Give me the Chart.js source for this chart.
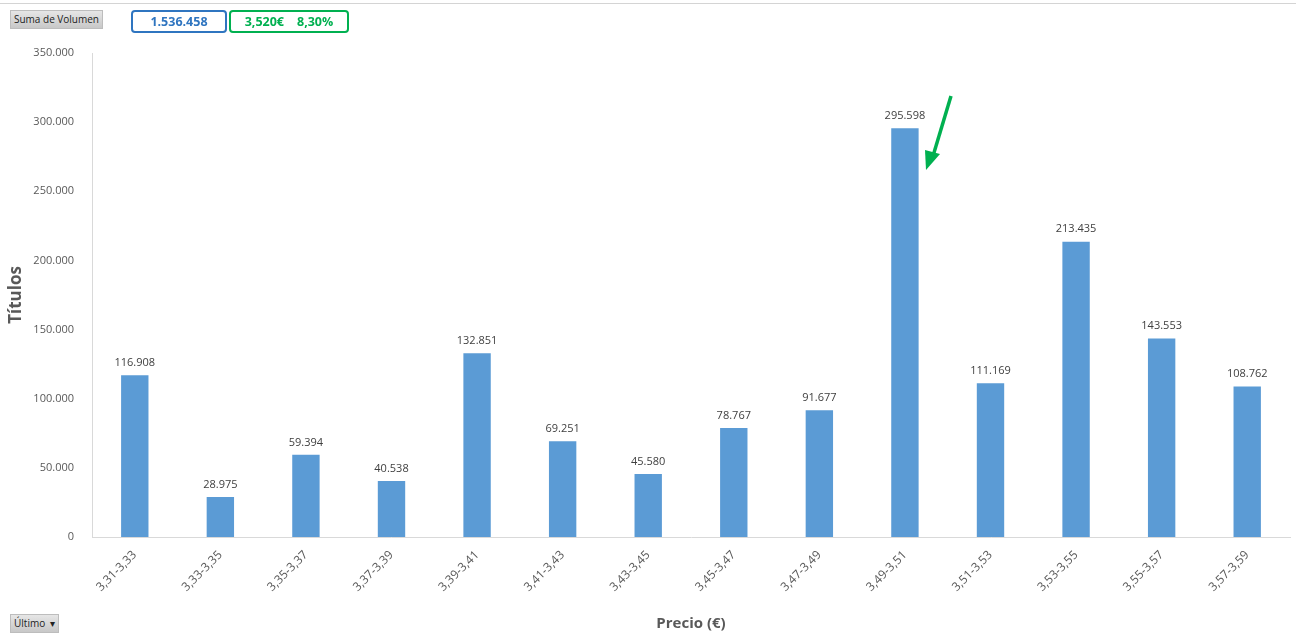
<!DOCTYPE html>
<html>
<head>
<meta charset="utf-8">
<script src="https://cdn.jsdelivr.net/npm/chart.js@4.4.1/dist/chart.umd.min.js"></script>
<style>
  body { margin: 0; background: #fff; font-family: "Open Sans", sans-serif; }
  #wrap { position: relative; width: 1296px; height: 638px; overflow: hidden; }
  #sheet { position: absolute; left: 0; top: 0; width: 1296px; height: 3px; border-bottom: 1px solid #d4d4d4; }
  .btn { position: absolute; background: linear-gradient(#e6e6e6, #c8c8c8); color: #222; font-size: 10px;
         padding: 1px 3px; line-height: 15px; border: 1px solid #bdbdbd; }
  .box { position: absolute; border-radius: 4px; font-weight: bold; font-size: 12.5px; text-align: center; line-height: 19px; }
  canvas { position: absolute; left: 0; top: 0; }
  svg { position: absolute; left: 0; top: 0; pointer-events: none; }
</style>
</head>
<body>
<div id="wrap">
  <canvas id="chartVolumen" width="1296" height="638"></canvas>
  <div id="sheet"></div>
  <div class="btn" style="left:10px;top:10px;">Suma de Volumen</div>
  <div class="box" style="left:131px;top:10px;width:92px;border:2px solid #2f75c0;color:#2f75c0;">1.536.458</div>
  <div class="box" style="left:229px;top:10px;width:116px;border:2px solid #00b050;color:#00b050;">3,520€&nbsp;&nbsp;&nbsp;&nbsp;8,30%</div>
  <div class="btn" style="left:10px;top:614px;">Último&nbsp;&nbsp;▾</div>
  <svg width="1296" height="638">
    <line x1="951" y1="96" x2="933" y2="156" stroke="#00b050" stroke-width="3.5"/>
    <polygon points="926,170 925,150 940,154" fill="#00b050"/>
  </svg>
</div>
<script>
  const rangos = ["3,31-3,33", "3,33-3,35", "3,35-3,37", "3,37-3,39", "3,39-3,41", "3,41-3,43", "3,43-3,45",
                  "3,45-3,47", "3,47-3,49", "3,49-3,51", "3,51-3,53", "3,53-3,55", "3,55-3,57", "3,57-3,59"];
  const volumen = [116908, 28975, 59394, 40538, 132851, 69251, 45580, 78767, 91677, 295598, 111169, 213435, 143553, 108762];

  const fmt = (v) => v.toString().replace(/\B(?=(\d{3})+(?!\d))/g, ".");

  // etiquetas encima de cada barra
  const valueLabels = {
    id: "valueLabels",
    afterDatasetsDraw(chart) {
      const ctx = chart.ctx;
      const meta = chart.getDatasetMeta(0);
      ctx.save();
      ctx.font = "11px 'Open Sans'";
      ctx.fillStyle = "#404040";
      ctx.textAlign = "center";
      ctx.textBaseline = "bottom";
      meta.data.forEach((bar, i) => {
        ctx.fillText(fmt(volumen[i]), bar.x, bar.y - 7);
      });
      ctx.restore();
    }
  };

  new Chart(document.getElementById("chartVolumen").getContext("2d"), {
    type: "bar",
    data: {
      labels: rangos,
      datasets: [{
        label: "Suma de Volumen",
        data: volumen,
        backgroundColor: "#5b9bd5",
        categoryPercentage: 1,
        barPercentage: 0.32
      }]
    },
    options: {
      responsive: false,
      animation: false,
      layout: { padding: { top: 53, right: 6, left: 0, bottom: 0 } },
      plugins: { legend: { display: false }, tooltip: { enabled: false } },
      scales: {
        x: {
          grid: { display: false },
          border: { color: "#d9d9d9" },
          ticks: { color: "#595959", font: { family: "Open Sans", size: 12 }, minRotation: 45, maxRotation: 45, padding: 3 },
          title: { display: true, text: "Precio (€)", color: "#595959", font: { family: "Open Sans", size: 15, weight: "bold" }, padding: { top: 0, bottom: 5 } },
          afterFit: (scale) => { scale.height = 101; }
        },
        y: {
          min: 0,
          max: 350000,
          grid: { display: false },
          border: { color: "#d9d9d9" },
          ticks: { stepSize: 50000, color: "#595959", font: { family: "Open Sans", size: 11 }, padding: 10, callback: (v) => fmt(v) },
          title: { display: true, text: "Títulos", color: "#595959", font: { family: "Open Sans", size: 17, weight: "bold" }, padding: { top: 6, bottom: 0 } },
          afterFit: (scale) => { scale.width = 92; }
        }
      }
    },
    plugins: [valueLabels]
  });
</script>
</body>
</html>
